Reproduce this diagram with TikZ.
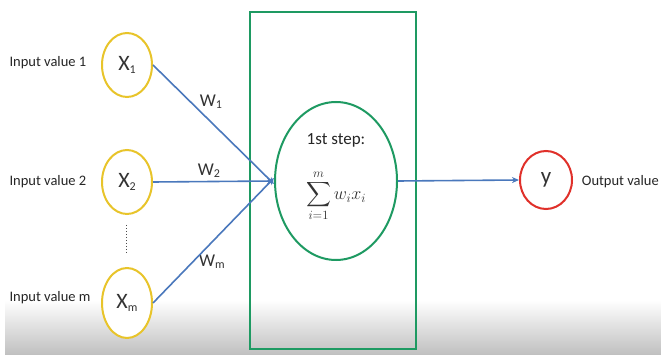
\documentclass[tikz,border=0pt]{standalone}
\usepackage{fix-cm}
\usepackage{exscale}
\usepackage{fontspec}
\setmainfont{Carlito}
\usetikzlibrary{shapes.geometric,arrows.meta}
\definecolor{inyel}{HTML}{E8C42A}
\definecolor{boxgreen}{HTML}{1E9A62}
\definecolor{arrblue}{HTML}{4A78BC}
\definecolor{outred}{HTML}{E0302A}
\tikzset{
  incirc/.style={ellipse,draw=inyel,line width=2pt,fill=white,minimum width=50pt,minimum height=64pt,inner sep=0pt,font=\fontsize{22}{22}\selectfont,text=black!80},
  sumcirc/.style={ellipse,draw=boxgreen,line width=2pt,fill=white,minimum width=122pt,minimum height=158pt,inner sep=0pt},
  outcirc/.style={ellipse,draw=outred,line width=2pt,fill=white,minimum width=52pt,minimum height=58pt,inner sep=0pt,font=\fontsize{23}{23}\selectfont,text=black!80},
  lbl/.style={font=\fontsize{14.5}{15}\selectfont,text=black!85},
  wlbl/.style={font=\fontsize{18}{18}\selectfont,text=black!80},
  conn/.style={draw=arrblue,line width=1.6pt,-{Stealth[length=7pt,width=6pt]}},
}
\newcommand{\subsc}[1]{\raisebox{-0.25ex}{\fontsize{12}{12}\selectfont #1}}
\begin{document}
\begin{tikzpicture}[x=1pt,y=-1pt]
\useasboundingbox (0,0) rectangle (661,355);
\fill[white] (0,0) rectangle (661,355);
\shade[top color=white,bottom color=black!25] (5,300) rectangle (661,355);
\draw[boxgreen,line width=2.6pt] (250,12) rectangle (416,349);
\node[sumcirc] (sum) at (336,181) {};
\node[lbl,font=\fontsize{17}{17}\selectfont] (step) at (336,140) {1st step:};
\node[text=black!80,font=\fontsize{18}{18}\selectfont] (eq) at (336,196) {$\displaystyle\sum_{i=1}^{m} w_i x_i$};
\node[incirc] (x1) at (127,65) {X\subsc{1}};
\node[incirc] (x2) at (127,182) {X\subsc{2}};
\node[incirc,minimum height=70pt] (xm) at (127,303) {X\subsc{m}};
\node[outcirc] (y) at (546,180) {y};
\node[lbl,anchor=west] (l1) at (6,63) {Input value 1};
\node[lbl,anchor=west] (l2) at (6,182) {Input value 2};
\node[lbl,anchor=west] (lm) at (6,298) {Input value m};
\node[lbl,anchor=east,inner sep=1pt] (lo) at (660,182) {Output value};
\node[wlbl] (w1) at (211,102) {W\subsc{1}};
\node[wlbl] (w2) at (209,171) {W\subsc{2}};
\node[wlbl] (wm) at (212,262) {W\subsc{m}};
\coordinate (d1) at (126,225);
\coordinate (d2) at (126,254);
\draw[black!70,line width=1pt,dotted] (d1) -- (d2);
\draw[conn] (x1.east) -- ([yshift=-3pt]sum.west);
\draw[conn] (x2.east) -- (sum.west);
\draw[conn] (xm.east) -- ([yshift=3pt]sum.west);
\draw[conn] (sum.east) -- (y.west);
\end{tikzpicture}
\end{document}
